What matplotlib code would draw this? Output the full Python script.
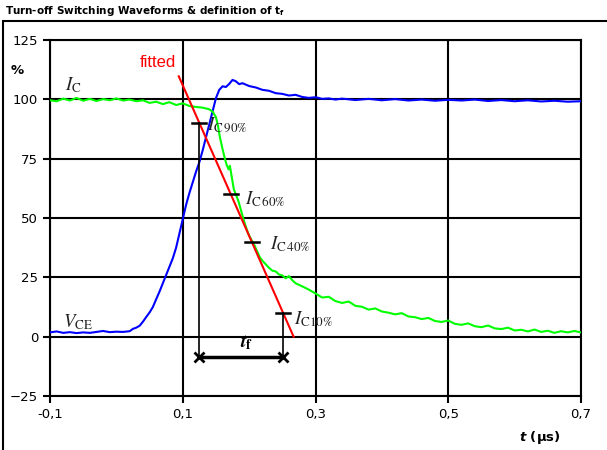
import matplotlib
matplotlib.use("Agg")
import matplotlib.pyplot as plt
from matplotlib.patches import Rectangle

plt.rcParams["mathtext.fontset"] = "stix"

# Collector current I_C (%) over time (µs)
t_ic = [-0.10, -0.09, -0.08, -0.07, -0.06, -0.05, -0.04, -0.03, -0.02, -0.01,
        0.00, 0.01, 0.02, 0.03, 0.04, 0.05, 0.06, 0.07, 0.08, 0.09,
        0.10, 0.11, 0.12, 0.13, 0.14, 0.145, 0.15, 0.153, 0.156, 0.16,
        0.163, 0.166, 0.169, 0.171, 0.174, 0.177, 0.18, 0.184, 0.188, 0.192,
        0.196, 0.20, 0.204, 0.208, 0.212, 0.216, 0.22, 0.225, 0.23, 0.235,
        0.24, 0.245, 0.25, 0.255, 0.26, 0.265, 0.27, 0.28, 0.29, 0.30,
        0.31, 0.32, 0.33, 0.34, 0.35, 0.36, 0.37, 0.38, 0.39, 0.40,
        0.41, 0.42, 0.43, 0.44, 0.45, 0.46, 0.47, 0.48, 0.49, 0.50,
        0.51, 0.52, 0.53, 0.54, 0.55, 0.56, 0.57, 0.58, 0.59, 0.60,
        0.61, 0.62, 0.63, 0.64, 0.65, 0.66, 0.67, 0.68, 0.69, 0.70]
ic = [99.6, 99.2, 100.3, 99.5, 100.6, 99.4, 100.2, 99.3, 100.1, 99.6,
      100.4, 99.5, 99.9, 99.2, 99.6, 98.5, 99.0, 98.0, 98.8, 97.6,
      98.3, 97.2, 96.8, 96.5, 95.8, 94.8, 92.5, 89.0, 84.0, 79.0,
      75.5, 72.5, 70.5, 72.0, 67.0, 62.0, 60.0, 57.0, 53.0, 49.0,
      45.5, 42.6, 40.5, 38.5, 36.0, 33.5, 32.0, 30.5, 29.0, 27.8,
      27.5, 26.2, 25.8, 24.6, 25.5, 23.8, 22.5, 21.2, 19.8, 18.2,
      16.5, 16.8, 15.0, 14.2, 14.8, 13.0, 12.6, 11.4, 11.9, 10.6,
      10.1, 9.4, 9.9, 8.5, 8.2, 7.4, 7.9, 6.6, 6.2, 6.8,
      5.4, 5.0, 5.6, 4.4, 4.0, 4.7, 3.5, 3.2, 3.8, 2.6,
      2.9, 2.2, 3.0, 2.0, 2.5, 1.6, 2.3, 1.8, 2.4, 1.8]

# Collector-emitter voltage V_CE (%)
t_vce = [-0.10, -0.09, -0.08, -0.07, -0.06, -0.05, -0.04, -0.03, -0.02, -0.01,
         0.00, 0.01, 0.02, 0.025, 0.03, 0.035, 0.04, 0.045, 0.05, 0.055,
         0.06, 0.065, 0.07, 0.075, 0.08, 0.085, 0.09, 0.095, 0.10, 0.105,
         0.11, 0.115, 0.12, 0.125, 0.13, 0.135, 0.14, 0.145, 0.15, 0.155,
         0.16, 0.165, 0.17, 0.175, 0.18, 0.185, 0.19, 0.20, 0.21, 0.22,
         0.23, 0.24, 0.25, 0.26, 0.27, 0.28, 0.29, 0.30, 0.31, 0.32,
         0.33, 0.34, 0.36, 0.38, 0.40, 0.42, 0.44, 0.46, 0.48, 0.50,
         0.52, 0.54, 0.56, 0.58, 0.60, 0.62, 0.64, 0.66, 0.68, 0.70]
vce = [1.8, 2.2, 1.6, 1.9, 1.5, 1.8, 1.6, 2.0, 2.4, 1.9,
       2.1, 2.0, 2.3, 3.3, 3.8, 4.6, 6.3, 8.3, 10.2, 12.5,
       15.8, 19.0, 22.5, 26.0, 29.5, 33.0, 37.5, 43.5, 49.5, 55.5,
       60.5, 65.0, 69.5, 73.5, 78.5, 84.0, 89.5, 95.0, 100.5, 104.0,
       105.5, 105.2, 106.5, 108.2, 107.6, 106.4, 106.8, 105.6, 105.0, 104.0,
       103.6, 102.6, 102.3, 101.6, 101.9, 101.0, 100.6, 100.9, 100.2, 100.4,
       99.9, 100.3, 99.7, 100.2, 99.6, 100.1, 99.5, 99.9, 99.4, 99.8,
       99.5, 99.9, 99.3, 99.7, 99.2, 99.6, 99.1, 99.4, 99.0, 99.2]

# Fitted fall line through the 90 % and 10 % points
t_fit = [0.094, 0.267]
v_fit = [109.7, 0.0]

# Crossing points of the fitted line
levels = [90, 60, 40, 10]
t_levels = [0.125, 0.172, 0.204, 0.251]
level_names = [r"$I_{\mathrm{C\,90\%}}$", r"$I_{\mathrm{C\,60\%}}$",
               r"$I_{\mathrm{C\,40\%}}$", r"$I_{\mathrm{C10\%}}$"]
label_pos = [(0.137, 89), (0.194, 57.8), (0.232, 38.8), (0.268, 7.2)]
tf_level = -8.4

x_ticks = [-0.1, 0.1, 0.3, 0.5, 0.7]
x_labels = ["-0,1", "0,1", "0,3", "0,5", "0,7"]
y_ticks = [-25, 0, 25, 50, 75, 100, 125]

fig = plt.figure(figsize=(6.07, 4.5), dpi=100)
ax = fig.add_axes([50 / 607, 1 - 396 / 450, 531 / 607, 356 / 450])

ax.plot(t_vce, vce, color="#0000ff", lw=1.5, zorder=3)
ax.plot(t_ic, ic, color="#00ff00", lw=1.5, zorder=3)
ax.plot(t_fit, v_fit, color="#ff0000", lw=1.5, zorder=4)

# level marks and t_f bracket
for tl, lv in zip(t_levels, levels):
    ax.plot([tl - 0.0105, tl + 0.0105], [lv, lv], color="black", lw=1.8, zorder=5)
ax.plot([t_levels[0], t_levels[0]], [levels[0], tf_level], color="black", lw=1.2, zorder=5)
ax.plot([t_levels[-1], t_levels[-1]], [levels[-1], tf_level], color="black", lw=1.2, zorder=5)
ax.plot([t_levels[0], t_levels[-1]], [tf_level, tf_level], color="black", lw=2.5,
        marker="x", markersize=7, markeredgewidth=2, zorder=5)

for name, (xp, yp) in zip(level_names, label_pos):
    ax.text(xp, yp, name, fontsize=13.5, color="#222222", va="center", ha="left")

ax.text(-0.078, 106, r"$I_{\mathrm{C}}$", fontsize=13.5, color="#222222", va="center")
ax.text(-0.081, 6.3, r"$V_{\mathrm{CE}}$", fontsize=13.5, color="#222222", va="center")
ax.text(0.197, -2.5, r"$\mathbfit{t}_{\mathbf{f}}$", fontsize=14, color="black",
        va="center", ha="center")
ax.text(0.035, 115.6, "fitted", fontsize=12, color="#ff0000", va="center",
        ha="left", family="Liberation Sans")

ax.set_xlim(-0.1, 0.7)
ax.set_ylim(-25, 125)
ax.set_xticks(x_ticks)
ax.set_xticklabels(x_labels)
ax.set_yticks(y_ticks)
ax.tick_params(direction="out", length=5, width=1.5, labelsize=9.5, color="black")
ax.grid(True, color="black", lw=1.5)
ax.set_axisbelow(True)
for s in ax.spines.values():
    s.set_linewidth(1.5)
    s.set_color("black")

fig.text(17 / 607, 1 - 70 / 450, "%", fontsize=9.5, weight="bold", ha="center", va="center")
fig.text(540 / 607, 1 - 437 / 450, r"$\mathbfit{t}$ (µs)", fontsize=9.5, weight="bold",
         ha="center", va="center", math_fontfamily="dejavusans")
fig.text(5 / 607, 1 - 11 / 450, r"Turn-off Switching Waveforms & definition of $\mathbf{t}_{\mathbf{f}}$",
         fontsize=7.5, weight="bold", ha="left", va="center", math_fontfamily="dejavusans")

fig.patches.append(Rectangle((3 / 607, -0.1), 1.2, 1 - 21 / 450 + 0.1, transform=fig.transFigure,
                             fill=False, lw=1.5, edgecolor="black"))

plt.savefig("out.png", dpi=100)
